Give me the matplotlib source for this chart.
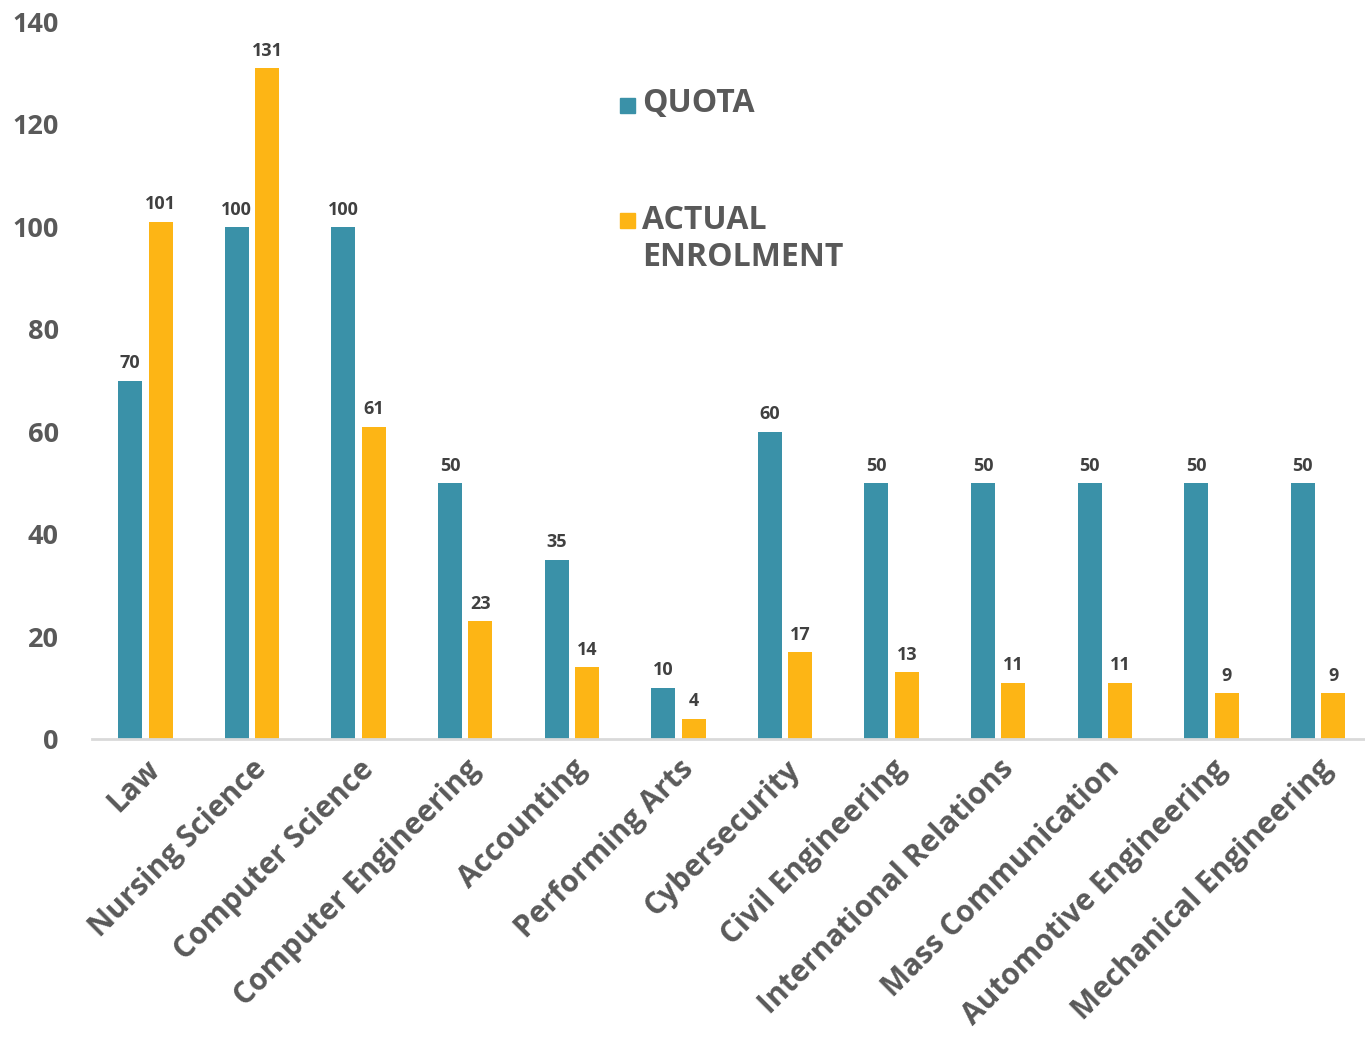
import matplotlib
matplotlib.use("Agg")
import matplotlib.pyplot as plt
import numpy as np
from matplotlib.patches import Rectangle

# data
programmes = ["Law", "Nursing Science", "Computer Science", "Computer Engineering",
              "Accounting", "Performing Arts", "Cybersecurity", "Civil Engineering",
              "International Relations", "Mass Communication", "Automotive Engineering",
              "Mechanical Engineering"]
quota = [70, 100, 100, 50, 35, 10, 60, 50, 50, 50, 50, 50]
actual = [101, 131, 61, 23, 14, 4, 17, 13, 11, 11, 9, 9]
yticks = [0, 20, 40, 60, 80, 100, 120, 140]

teal = "#3A91A8"
gold = "#FDB515"
txt = "#595959"

plt.rcParams['font.family'] = ['Open Sans', 'DejaVu Sans']
plt.rcParams['font.weight'] = 'bold'

fig = plt.figure(figsize=(13.65, 10.47), dpi=100)
ax = fig.add_axes([92/1365, 1-739/1047, 1273/1365, 717/1047])

x = np.arange(len(programmes))
w = 0.225
off = 0.143
b1 = ax.bar(x - off, quota, w, color=teal)
b2 = ax.bar(x + off, actual, w, color=gold)

for bars, vals in ((b1, quota), (b2, actual)):
    for r, v in zip(bars, vals):
        ax.annotate(str(v), (r.get_x() + r.get_width()/2, v), xytext=(0, 6),
                    textcoords="offset points", ha="center", va="bottom",
                    fontsize=13, fontweight="bold", color="#404040")

ax.set_ylim(0, 140)
ax.set_xlim(-0.5, 11.44)
ax.set_yticks(yticks)
ax.set_yticklabels(yticks, fontsize=19.5, color=txt, fontweight="bold")
ax.set_xticks(x)
ax.set_xticklabels(programmes, rotation=45, ha="right", rotation_mode="anchor",
                   fontsize=21.5, color=txt, fontweight="bold")
ax.tick_params(axis="both", length=0)
ax.tick_params(axis="y", pad=24)
ax.tick_params(axis="x", pad=11)

for s in ("top", "right", "left"):
    ax.spines[s].set_visible(False)
ax.spines["bottom"].set_color("#D9D9D9")
ax.spines["bottom"].set_linewidth(2)

# legend drawn by hand to match the layout
ax.add_patch(Rectangle((0.415, 0.873), 0.0118, 0.021, transform=ax.transAxes,
                       color=teal, clip_on=False))
ax.text(0.432, 0.886, "QUOTA", transform=ax.transAxes, va="center", ha="left",
        fontsize=23, fontweight="bold", color=txt)
ax.add_patch(Rectangle((0.415, 0.713), 0.0118, 0.021, transform=ax.transAxes,
                       color=gold, clip_on=False))
ax.text(0.432, 0.697, "ACTUAL\nENROLMENT", transform=ax.transAxes, va="center",
        ha="left", fontsize=23, fontweight="bold", color=txt, linespacing=1.15)

fig.savefig("out.png", dpi=100)
